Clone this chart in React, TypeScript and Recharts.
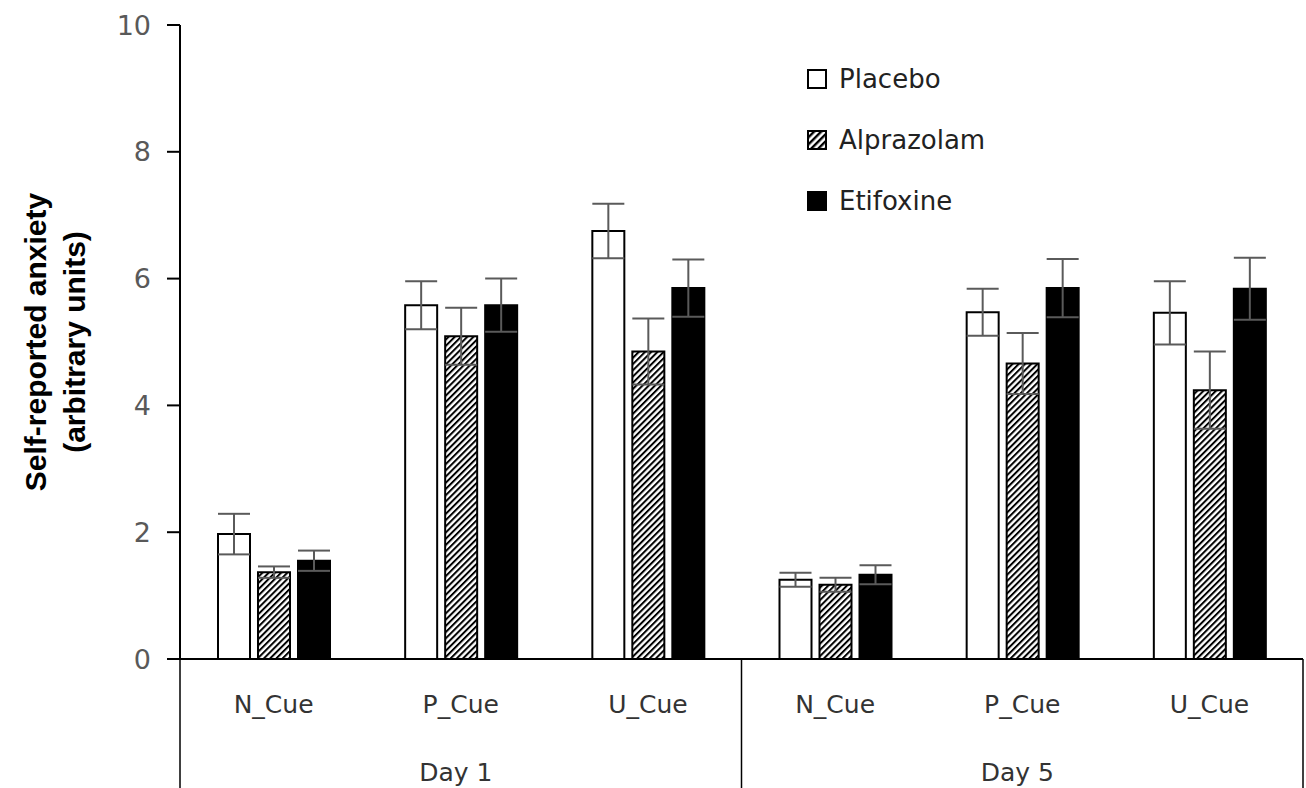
//
// Self-reported anxiety by cue, day and treatment
//
import React from 'react';
import { Bar, BarChart, ErrorBar, Legend, XAxis, YAxis } from 'recharts';

const cues = ['N_Cue', 'P_Cue', 'U_Cue', 'N_Cue', 'P_Cue', 'U_Cue'];
const days = ['Day 1', 'Day 1', 'Day 1', 'Day 5', 'Day 5', 'Day 5'];

const placebo = [1.97, 5.58, 6.75, 1.25, 5.47, 5.46];
const placeboErr = [0.32, 0.38, 0.43, 0.11, 0.37, 0.5];
const alprazolam = [1.37, 5.09, 4.85, 1.17, 4.66, 4.24];
const alprazolamErr = [0.09, 0.45, 0.52, 0.11, 0.48, 0.61];
const etifoxine = [1.55, 5.58, 5.85, 1.33, 5.85, 5.84];
const etifoxineErr = [0.16, 0.42, 0.45, 0.15, 0.46, 0.49];

const yTicks = [0, 2, 4, 6, 8, 10];

const data = cues.map((cue, i) => ({
  cue,
  day: days[i],
  placebo: placebo[i],
  placeboErr: placeboErr[i],
  alprazolam: alprazolam[i],
  alprazolamErr: alprazolamErr[i],
  etifoxine: etifoxine[i],
  etifoxineErr: etifoxineErr[i],
}));

const legendItems = [
  { name: 'Placebo', fill: '#fff' },
  { name: 'Alprazolam', fill: 'url(#hatchLegend)' },
  { name: 'Etifoxine', fill: '#000' },
];

const CHART_W = 1306;
const CHART_H = 788;
const X_AXIS_H = 129;
const PLOT_W = 1123;

const errStyle = { stroke: '#5a5a5a', strokeWidth: 2 };

// カテゴリ + 日付ラベル + 区切り線
const CueTick = (props: any) => {
  const { x, y, payload, index } = props;
  const half = payload.offset || PLOT_W / cues.length / 2;
  const isFirst = index % 3 === 0;
  const isMiddle = index % 3 === 1;
  const isLast = index === cues.length - 1;
  return (
    <g>
      <text
        x={x}
        y={y + 54}
        textAnchor="middle"
        fontFamily="DejaVu Sans"
        fontSize={25}
        fill="#333"
      >
        {payload.value}
      </text>
      {isMiddle && (
        <text
          x={x - 5}
          y={y + 122}
          textAnchor="middle"
          fontFamily="DejaVu Sans"
          fontSize={25}
          fill="#333"
        >
          {days[index]}
        </text>
      )}
      {isFirst && (
        <line x1={x - half} x2={x - half} y1={y} y2={y + X_AXIS_H} stroke="#000" strokeWidth={1.5} />
      )}
      {isLast && (
        <line x1={x + half} x2={x + half} y1={y} y2={y + X_AXIS_H} stroke="#000" strokeWidth={1.5} />
      )}
    </g>
  );
};

const YLabel = (props: any) => {
  const cy = props.viewBox.y + props.viewBox.height / 2;
  const style = { fontFamily: 'Liberation Sans', fontWeight: 'bold', fontSize: 30, fill: '#000' };
  return (
    <g>
      <text x={46} y={cy} textAnchor="middle" transform={`rotate(-90 46 ${cy})`} style={style}>
        Self-reported anxiety
      </text>
      <text x={85} y={cy} textAnchor="middle" transform={`rotate(-90 85 ${cy})`} style={style}>
        (arbitrary units)
      </text>
    </g>
  );
};

const LegendContent = () => (
  <div style={{ fontFamily: 'DejaVu Sans', fontSize: 26, color: '#222' }}>
    <svg width={0} height={0} style={{ position: 'absolute' }}>
      <defs>
        <pattern id="hatchLegend" width={5} height={5} patternUnits="userSpaceOnUse" patternTransform="rotate(45)">
          <rect width={5} height={5} fill="#fff" />
          <rect width={2.4} height={5} fill="#000" />
        </pattern>
      </defs>
    </svg>
    {legendItems.map((item) => (
      <div key={item.name} style={{ display: 'flex', alignItems: 'center', height: 61 }}>
        <svg width={20} height={20} style={{ marginRight: 12 }}>
          <rect x={1} y={1} width={18} height={18} fill={item.fill} stroke="#000" strokeWidth={2} />
        </svg>
        <span>{item.name}</span>
      </div>
    ))}
  </div>
);

function App() {
  return (
    <div style={{ position: 'absolute', left: 0, top: 0 }}>
      <BarChart
        width={CHART_W}
        height={CHART_H}
        data={data}
        margin={{ top: 25, right: 3, bottom: 0, left: 0 }}
        barSize={32}
        barGap={8}
      >
        <defs>
          <pattern id="hatch" width={4.4} height={4.4} patternUnits="userSpaceOnUse" patternTransform="rotate(45)">
            <rect width={4.4} height={4.4} fill="#fff" />
            <rect width={2} height={4.4} fill="#000" />
          </pattern>
        </defs>
        <XAxis
          dataKey="cue"
          height={X_AXIS_H}
          tickLine={false}
          tickSize={0}
          tickMargin={0}
          axisLine={{ stroke: '#000', strokeWidth: 2 }}
          tick={<CueTick />}
          interval={0}
        />
        <YAxis
          width={180}
          domain={[0, 10]}
          ticks={yTicks}
          tickSize={13}
          tickMargin={16}
          axisLine={{ stroke: '#000', strokeWidth: 2 }}
          tickLine={{ stroke: '#000', strokeWidth: 2 }}
          tick={{ fontFamily: 'DejaVu Sans', fontSize: 27, fill: '#595959' }}
          label={{ content: <YLabel /> }}
        />
        <Legend
          layout="vertical"
          verticalAlign="middle"
          align="center"
          content={<LegendContent />}
          wrapperStyle={{ left: 807, top: 48, width: 'auto' }}
        />
        <Bar dataKey="placebo" name="Placebo" fill="#fff" stroke="#000" strokeWidth={2} isAnimationActive={false}>
          <ErrorBar dataKey="placeboErr" width={16} {...errStyle} />
        </Bar>
        <Bar dataKey="alprazolam" name="Alprazolam" fill="url(#hatch)" stroke="#000" strokeWidth={2} isAnimationActive={false}>
          <ErrorBar dataKey="alprazolamErr" width={16} {...errStyle} />
        </Bar>
        <Bar dataKey="etifoxine" name="Etifoxine" fill="#000" stroke="#000" strokeWidth={2} isAnimationActive={false}>
          <ErrorBar dataKey="etifoxineErr" width={16} {...errStyle} />
        </Bar>
      </BarChart>
    </div>
  );
}

export default App;
